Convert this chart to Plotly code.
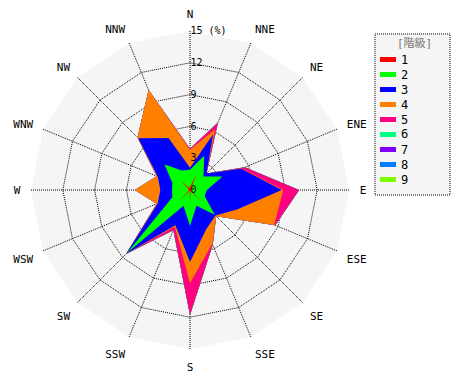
import plotly.graph_objects as go
import numpy as np

directions = ["N", "NNE", "NE", "ENE", "E", "ESE", "SE", "SSE",
              "S", "SSW", "SW", "WSW", "W", "WNW", "NW", "NNW"]

class_names = ["1", "2", "3", "4", "5", "6", "7", "8", "9"]

# frequency (%) of each wind-speed class per direction
c1 = [0.3, 1.6, 0.1, 0.4, 0.2, 0.1, 1.6, 0.1, 1.3, 0.1, 1.5, 0.1, 0.2, 0.1, 1.3, 0.2]
c2 = [1.6, 1.9, 1.7, 2.9, 1.4, 1.4, 1.7, 1.5, 2.1, 1.5, 6.9, 1.7, 1.5, 1.7, 2.1, 1.8]
c3 = [0.2, 2.2, 0.4, 1.95, 7.05, 3.3, 0.1, 2.4, 3.4, 2.0, 0.1, 1.5, 1.1, 1.5, 3.5, 3.3]
c4 = [1.7, 0.5, 0.0, 0.05, 0.15, 3.8, 0.1, 1.5, 2.0, 0.15, 0.0, 0.1, 2.4, 0.1, 0.1, 4.9]
c5 = [0.1, 0.7, 0.0, 0.3, 1.5, 0.1, 0.0, 0.1, 3.0, 0.35, 0.0, 0.0, 0.0, 0.0, 0.0, 0.0]
c6 = [0.0] * 16
c7 = [0.0] * 16
c8 = [0.0] * 16
c9 = [0.0] * 16

colors = ["#ff0000", "#00ff00", "#0000ff", "#ff8000", "#ff0080",
          "#00ff80", "#8000ff", "#0080ff", "#80ff00"]

radial_ticks = [0, 3, 6, 9, 12, 15]
radial_labels = ["0", "3", "6", "9", "12", "15 (%)"]

legend_title = "[階級]"

classes = [c1, c2, c3, c4, c5, c6, c7, c8, c9]
cum = np.cumsum(np.array(classes), axis=0)

fig = go.Figure()
theta_closed = directions + [directions[0]]
for i in range(8, -1, -1):
    r = list(cum[i]) + [cum[i][0]]
    fig.add_trace(go.Scatterpolar(
        r=r, theta=theta_closed, mode="lines", fill="toself",
        fillcolor=colors[i], line=dict(color=colors[i], width=0),
        name=class_names[i], hoverinfo="skip", showlegend=False))

font_family = "DejaVu Sans Mono, Noto Sans CJK JP"
W, H = 470, 380
OFF = 8  # page body margin offset
DOT = "1px,1px"

def px(x):
    return (x - OFF) / W

def py(y):
    return 1 - (y - OFF) / H

# legend drawn as a dotted box with swatches
shapes = [dict(type="rect", xref="paper", yref="paper",
               x0=px(375), x1=px(450), y0=py(195), y1=py(34),
               line=dict(color="black", width=1, dash=DOT),
               fillcolor="#f5f5f5", layer="below")]
annotations = [dict(text=legend_title, xref="paper", yref="paper",
                    x=px(414), y=py(44), showarrow=False,
                    font=dict(size=11, color="#777777"),
                    xanchor="center", yanchor="middle")]
for i, name in enumerate(class_names):
    yc = 59.5 + 15 * i
    shapes.append(dict(type="rect", xref="paper", yref="paper",
                       x0=px(380), x1=px(396), y0=py(yc + 2.5), y1=py(yc - 2.5),
                       line=dict(width=0), fillcolor=colors[i]))
    annotations.append(dict(text=name, xref="paper", yref="paper",
                            x=px(399), y=py(yc), showarrow=False,
                            font=dict(size=12, color="black"),
                            xanchor="left", yanchor="middle"))

fig.update_layout(
    width=W, height=H,
    margin=dict(l=0, r=0, t=0, b=0, autoexpand=False),
    paper_bgcolor="white",
    font=dict(family=font_family, size=11, color="black"),
    showlegend=False,
    polar=dict(
        domain=dict(x=[px(31), px(349)], y=[py(349), py(31)]),
        bgcolor="#f5f5f5",
        gridshape="linear",
        angularaxis=dict(
            direction="clockwise", rotation=90,
            categoryorder="array", categoryarray=directions,
            showline=False, gridcolor="black", griddash=DOT, gridwidth=1,
            ticks="outside", ticklen=8, tickcolor="rgba(0,0,0,0)",
            tickfont=dict(size=11),
        ),
        radialaxis=dict(
            range=[0, 15], angle=90, tickangle=90,
            tickvals=radial_ticks, ticktext=radial_labels,
            showline=False, gridcolor="black", griddash=DOT, gridwidth=1,
            ticks="", tickfont=dict(size=10),
        ),
    ),
    shapes=shapes,
    annotations=annotations,
)

fig.write_html("out.html")
